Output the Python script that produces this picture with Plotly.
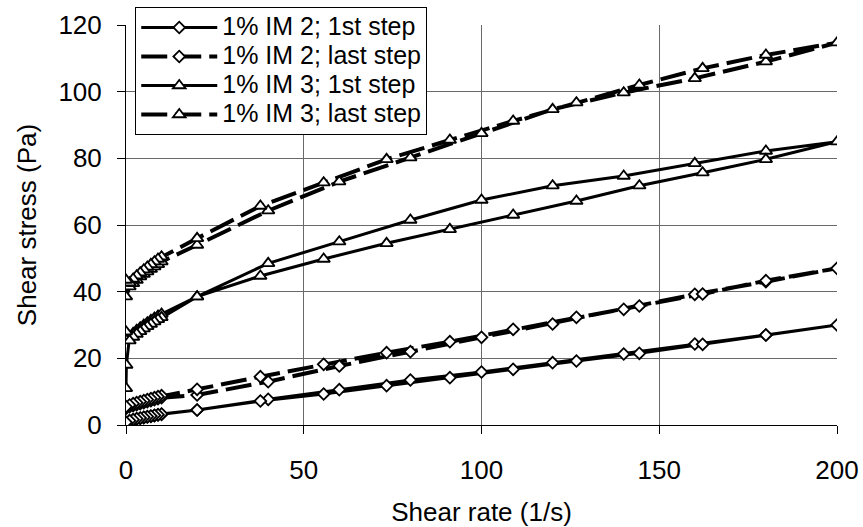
import plotly.graph_objects as go

# ---- data ----
im2_first_x = [0, 1, 2, 3, 4, 5, 6, 7, 8, 9, 10, 20, 40, 60, 80, 100, 120, 140, 160, 180, 200,
               180, 162.2, 144.4, 126.7, 108.9, 91.1, 73.3, 55.6, 37.8, 20, 10, 9, 8, 7, 6, 5, 4, 3, 2, 1, 0]
im2_first_y = [0.5, 1.2, 1.5, 1.8, 2.0, 2.2, 2.4, 2.6, 2.8, 3.0, 3.2, 4.5, 7.7, 10.6, 13.5, 15.9, 18.7, 21.3, 24.3, 27.0, 30.0,
               27.0, 24.2, 21.5, 19.2, 16.7, 14.2, 11.8, 9.3, 7.2, 4.5, 3.3, 3.1, 2.9, 2.7, 2.5, 2.3, 2.1, 1.9, 1.6, 1.3, 0.8]

im2_last_x = [0, 1, 2, 3, 4, 5, 6, 7, 8, 9, 10, 20, 40, 60, 80, 100, 120, 140, 160, 180, 200,
              180, 162.2, 144.4, 126.7, 108.9, 91.1, 73.3, 55.6, 37.8, 20, 10, 9, 8, 7, 6, 5, 4, 3, 2, 1, 0]
im2_last_y = [5.0, 5.5, 5.8, 6.1, 6.4, 6.7, 7.0, 7.3, 7.6, 7.9, 8.2, 9.0, 13.0, 17.7, 22.0, 26.3, 30.3, 34.7, 39.2, 43.0, 47.0,
              43.3, 39.3, 35.7, 32.3, 28.7, 25.0, 21.7, 18.2, 14.5, 10.7, 8.8, 8.5, 8.2, 7.9, 7.6, 7.3, 7.0, 6.7, 6.4, 6.0, 5.5]

im3_first_x = [0, 0.1, 1, 2, 3, 4, 5, 6, 7, 8, 9, 10, 20, 40, 60, 80, 100, 120, 140, 160, 180, 200,
               180, 162.2, 144.4, 126.7, 108.9, 91.1, 73.3, 55.6, 37.8, 20, 10, 9, 8, 7, 6, 5, 4, 3, 2, 1, 0]
im3_first_y = [11.0, 18.0, 26.5, 27.5, 28.4, 29.2, 30.0, 30.7, 31.4, 32.1, 32.7, 33.3, 38.5, 48.5, 55.0, 61.5, 67.5, 71.8, 74.7, 78.5, 82.2, 85.0,
               79.7, 75.7, 71.8, 67.2, 63.0, 58.7, 54.5, 49.8, 44.7, 38.5, 32.3, 31.7, 31.0, 30.3, 29.6, 28.9, 28.1, 27.3, 26.4, 25.3, 28.0]

im3_last_x = [0, 1, 2, 3, 4, 5, 6, 7, 8, 9, 10, 20, 40, 60, 80, 100, 120, 140, 160, 180, 200,
              180, 162.2, 144.4, 126.7, 108.9, 91.1, 73.3, 55.6, 37.8, 20, 10, 9, 8, 7, 6, 5, 4, 3, 2, 1, 0]
im3_last_y = [38.5, 41.5, 42.5, 43.5, 44.5, 45.3, 46.0, 46.8, 47.5, 48.2, 49.0, 54.0, 64.3, 73.0, 80.2, 87.5, 94.7, 99.7, 104.0, 109.0, 114.7,
              111.0, 107.0, 102.0, 96.7, 91.2, 85.5, 79.7, 72.7, 65.7, 56.0, 50.5, 49.8, 49.0, 48.2, 47.4, 46.6, 45.7, 44.8, 43.8, 42.7, 43.5]

series_names = ["1% IM 2; 1st step", "1% IM 2; last step", "1% IM 3; 1st step", "1% IM 3; last step"]

x_ticks = [0, 50, 100, 150, 200]
y_ticks = [0, 20, 40, 60, 80, 100, 120]

FONT = "Arial, Liberation Sans, sans-serif"

fig = go.Figure()

styles = [
    (im2_first_x, im2_first_y, "solid", 3.0, "diamond", 9),
    (im2_last_x, im2_last_y, "26px,8px", 4.0, "diamond", 9),
    (im3_first_x, im3_first_y, "solid", 3.0, "triangle-up", 11),
    (im3_last_x, im3_last_y, "26px,8px", 4.0, "triangle-up", 11),
]

for name, (xs, ys, dash, lw, sym, ms) in zip(series_names, styles):
    fig.add_trace(go.Scatter(
        x=xs, y=ys, mode="lines+markers",
        name='<span style="font-size:25px">' + name + '</span>',
        line=dict(color="black", width=lw, dash=dash),
        marker=dict(symbol=sym, size=ms, color="white", line=dict(color="black", width=1.8)),
    ))

fig.update_layout(
    width=863, height=527,
    margin=dict(l=126, r=26, t=25, b=102, autoexpand=False),
    paper_bgcolor="white", plot_bgcolor="white",
    font=dict(family=FONT, size=26, color="black"),
    showlegend=True,
    legend=dict(
        x=0.013, y=1.045, xanchor="left", yanchor="top",
        bgcolor="white", bordercolor="black", borderwidth=1,
        font=dict(size=20), itemwidth=76, tracegroupgap=0,
    ),
    xaxis=dict(
        range=[0, 200], tickvals=x_ticks, ticks="outside", ticklen=8, tickcolor="black",
        showline=True, linecolor="black", linewidth=1, mirror=False, automargin=False,
        showgrid=True, gridcolor="#6a6a6a", gridwidth=1, zeroline=False,
        title=dict(text="Shear rate (1/s)", font=dict(size=26), standoff=18),
        ticklabelstandoff=14,
    ),
    yaxis=dict(
        range=[0, 120], tickvals=y_ticks, ticks="outside", ticklen=8, tickcolor="black",
        showline=True, linecolor="black", linewidth=1, automargin=False,
        showgrid=True, gridcolor="#6a6a6a", gridwidth=1, zeroline=False,
        title=dict(text="Shear stress (Pa)", font=dict(size=26), standoff=14),
        ticklabelstandoff=10,
    ),
)

fig.write_html("out.html")
